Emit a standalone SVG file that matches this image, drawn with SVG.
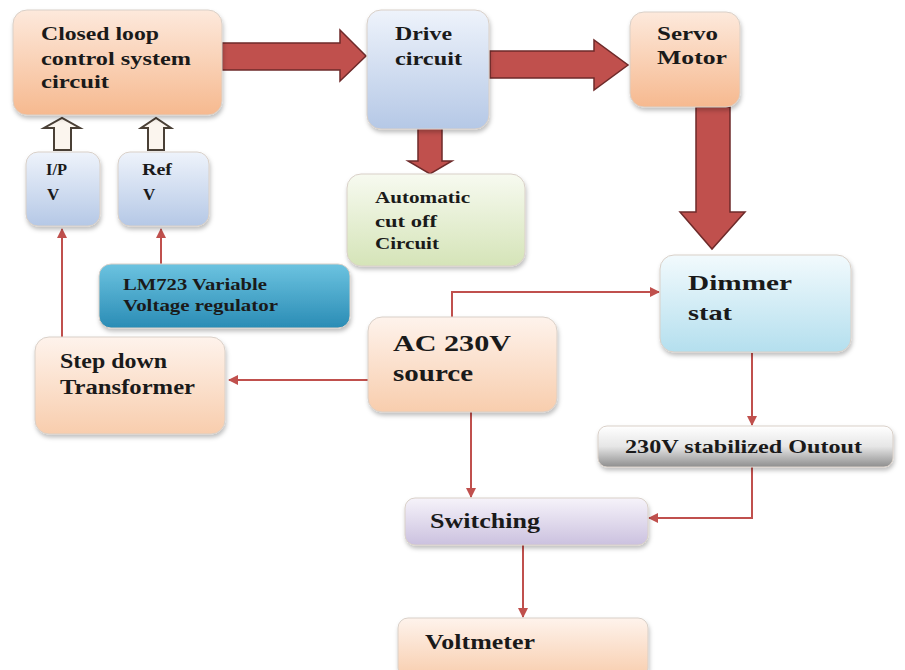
<svg xmlns="http://www.w3.org/2000/svg" width="905" height="670" viewBox="0 0 905 670">
<defs>
<style>
.t{font-family:"Liberation Serif","DejaVu Serif",serif;font-weight:bold;fill:#1a1a1a}
.box{stroke:#d9d0c8;stroke-width:1;filter:url(#sh)}
.ln{fill:none;stroke:#c0504d;stroke-width:2}
.big{fill:#c0504d;stroke:#6e2a2a;stroke-width:1.5;stroke-linejoin:miter}
.hol{fill:#fbf5ee;stroke:#4a4036;stroke-width:2;stroke-linejoin:miter}
</style>
<filter id="sh" x="-10%" y="-10%" width="125%" height="135%">
<feDropShadow dx="1" dy="3" stdDeviation="2" flood-color="#000" flood-opacity="0.25"/>
</filter>
<linearGradient id="peach" x1="0" y1="0" x2="0" y2="1"><stop offset="0" stop-color="#fde9dc"/><stop offset="1" stop-color="#f6b98f"/></linearGradient>
<linearGradient id="blue" x1="0" y1="0" x2="0" y2="1"><stop offset="0" stop-color="#eef3fb"/><stop offset="1" stop-color="#b5c8e6"/></linearGradient>
<linearGradient id="green" x1="0" y1="0" x2="0" y2="1"><stop offset="0" stop-color="#f7faf0"/><stop offset="1" stop-color="#d5e4b8"/></linearGradient>
<linearGradient id="teal" x1="0" y1="0" x2="0" y2="1"><stop offset="0" stop-color="#6cc3e0"/><stop offset="1" stop-color="#2a8cb5"/></linearGradient>
<linearGradient id="sky" x1="0" y1="0" x2="0" y2="1"><stop offset="0" stop-color="#f2fafd"/><stop offset="1" stop-color="#b4dfee"/></linearGradient>
<linearGradient id="gray" x1="0" y1="0" x2="0" y2="1"><stop offset="0" stop-color="#ffffff"/><stop offset="0.5" stop-color="#e6e6e6"/><stop offset="1" stop-color="#8e8e8e"/></linearGradient>
<linearGradient id="lav" x1="0" y1="0" x2="0" y2="1"><stop offset="0" stop-color="#f6f3fa"/><stop offset="1" stop-color="#cbc1df"/></linearGradient>
<linearGradient id="peach2" x1="0" y1="0" x2="0" y2="1"><stop offset="0" stop-color="#fef3ec"/><stop offset="1" stop-color="#f8cdad"/></linearGradient>
<marker id="ah" viewBox="0 0 10 10" refX="9" refY="5" markerWidth="5" markerHeight="5" orient="auto" markerUnits="strokeWidth"><path d="M0,0 L10,5 L0,10 z" fill="#c0504d"/></marker>
</defs>
<rect width="905" height="670" fill="#ffffff"/>

<g id="connectors">
<polygon class="big" points="222,43 340,43 340,30 366,56 340,81 340,70 222,70"/>
<polygon class="big" points="490,51 594,51 594,40 628,65 594,90 594,78 490,78"/>
<polygon class="big" points="418,128 442,128 442,161 452,161 430,174 408,161 418,161"/>
<polygon class="big" points="696,107 730,107 730,212 745,212 712,249 680,212 696,212"/>
<polygon class="hol" points="54,150 71,150 71,128 80,128 62,118 44,128 54,128"/>
<polygon class="hol" points="148,150 164,150 164,128 171,128 156,118 141,128 148,128"/>
<path class="ln" d="M62,337 V229" marker-end="url(#ah)"/>
<path class="ln" d="M161,264 V229" marker-end="url(#ah)"/>
<path class="ln" d="M368,380 H229" marker-end="url(#ah)"/>
<path class="ln" d="M452,317 V292 H659" marker-end="url(#ah)"/>
<path class="ln" d="M752,353 V425" marker-end="url(#ah)"/>
<path class="ln" d="M752,467 V518 H649" marker-end="url(#ah)"/>
<path class="ln" d="M471,412 V497" marker-end="url(#ah)"/>
<path class="ln" d="M523,545 V617" marker-end="url(#ah)"/>
</g>

<g id="closed-loop">
<rect class="box" x="13" y="10" width="209" height="105" rx="14" fill="url(#peach)"/>
<text class="t" x="41" y="40" font-size="19" textLength="118" lengthAdjust="spacingAndGlyphs">Closed loop</text>
<text class="t" x="41" y="65" font-size="19" textLength="150" lengthAdjust="spacingAndGlyphs">control system</text>
<text class="t" x="41" y="88" font-size="19" textLength="68" lengthAdjust="spacingAndGlyphs">circuit</text>
</g>

<g id="drive">
<rect class="box" x="367" y="10" width="122" height="119" rx="14" fill="url(#blue)"/>
<text class="t" x="395" y="40" font-size="19" textLength="57" lengthAdjust="spacingAndGlyphs">Drive</text>
<text class="t" x="395" y="65" font-size="19" textLength="67" lengthAdjust="spacingAndGlyphs">circuit</text>
</g>

<g id="servo">
<rect class="box" x="630" y="12" width="110" height="95" rx="14" fill="url(#peach)"/>
<text class="t" x="657" y="40" font-size="19" textLength="61" lengthAdjust="spacingAndGlyphs">Servo</text>
<text class="t" x="657" y="64" font-size="19" textLength="70" lengthAdjust="spacingAndGlyphs">Motor</text>
</g>

<g id="cutoff">
<rect class="box" x="347" y="174" width="178" height="92" rx="14" fill="url(#green)"/>
<text class="t" x="375" y="203" font-size="17" textLength="95" lengthAdjust="spacingAndGlyphs">Automatic</text>
<text class="t" x="375" y="227" font-size="17" textLength="62" lengthAdjust="spacingAndGlyphs">cut off</text>
<text class="t" x="375" y="249" font-size="17" textLength="64" lengthAdjust="spacingAndGlyphs">Circuit</text>
</g>

<g id="ipv">
<rect class="box" x="26" y="152" width="74" height="74" rx="12" fill="url(#blue)"/>
<text class="t" x="46" y="175" font-size="17" textLength="21" lengthAdjust="spacingAndGlyphs">I/P</text>
<text class="t" x="47" y="200" font-size="17">V</text>
</g>

<g id="refv">
<rect class="box" x="118" y="152" width="91" height="74" rx="12" fill="url(#blue)"/>
<text class="t" x="142" y="175" font-size="17" textLength="30" lengthAdjust="spacingAndGlyphs">Ref</text>
<text class="t" x="143" y="200" font-size="17">V</text>
</g>

<g id="lm723">
<rect class="box" x="99" y="264" width="251" height="64" rx="12" fill="url(#teal)" stroke="#1f6f91"/>
<text class="t" x="123" y="290" font-size="17" textLength="144" lengthAdjust="spacingAndGlyphs">LM723 Variable</text>
<text class="t" x="123" y="311" font-size="17" textLength="155" lengthAdjust="spacingAndGlyphs">Voltage regulator</text>
</g>

<g id="stepdown">
<rect class="box" x="35" y="337" width="190" height="97" rx="14" fill="url(#peach2)"/>
<text class="t" x="60" y="368" font-size="20" textLength="107" lengthAdjust="spacingAndGlyphs">Step down</text>
<text class="t" x="60" y="394" font-size="20" textLength="135" lengthAdjust="spacingAndGlyphs">Transformer</text>
</g>

<g id="ac">
<rect class="box" x="368" y="317" width="189" height="95" rx="14" fill="url(#peach2)"/>
<text class="t" x="393" y="351" font-size="23" textLength="118" lengthAdjust="spacingAndGlyphs">AC 230V</text>
<text class="t" x="393" y="381" font-size="23" textLength="80" lengthAdjust="spacingAndGlyphs">source</text>
</g>

<g id="dimmer">
<rect class="box" x="660" y="255" width="191" height="97" rx="14" fill="url(#sky)"/>
<text class="t" x="688" y="290" font-size="22" textLength="104" lengthAdjust="spacingAndGlyphs">Dimmer</text>
<text class="t" x="688" y="320" font-size="22" textLength="44" lengthAdjust="spacingAndGlyphs">stat</text>
</g>

<g id="stabilized">
<rect class="box" x="598" y="426" width="295" height="41" rx="9" fill="url(#gray)" stroke="#777"/>
<text class="t" x="625" y="453" font-size="18" textLength="237" lengthAdjust="spacingAndGlyphs">230V stabilized Outout</text>
</g>

<g id="switching">
<rect class="box" x="405" y="498" width="243" height="47" rx="10" fill="url(#lav)"/>
<text class="t" x="430" y="528" font-size="21" textLength="110" lengthAdjust="spacingAndGlyphs">Switching</text>
</g>

<g id="voltmeter">
<rect class="box" x="398" y="618" width="250" height="60" rx="10" fill="url(#peach2)"/>
<text class="t" x="425" y="649" font-size="21" textLength="110" lengthAdjust="spacingAndGlyphs">Voltmeter</text>
</g>
</svg>
